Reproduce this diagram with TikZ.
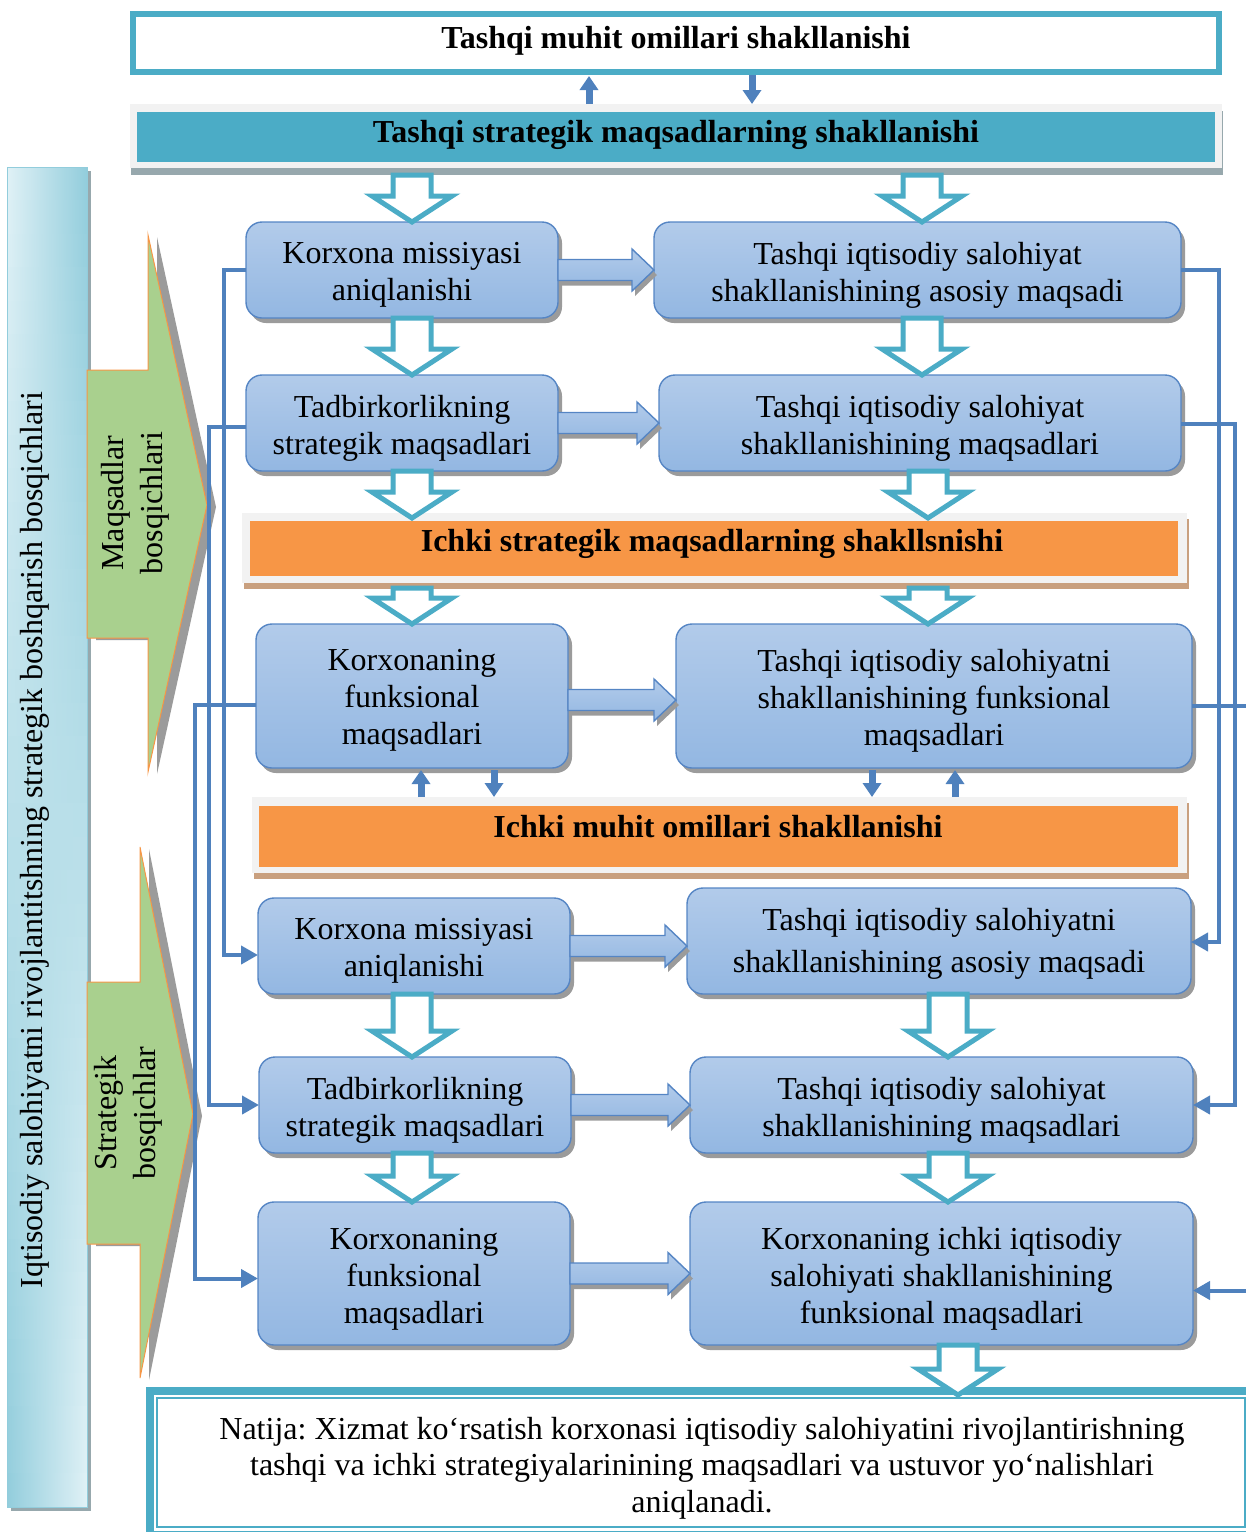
\documentclass[tikz,border=0pt]{standalone}
\usepackage{fontspec}
\setmainfont{Liberation Serif}
\usetikzlibrary{calc,shadows,arrows.meta}

\definecolor{cyanC}{HTML}{4BACC6}
\definecolor{lineB}{HTML}{4F81BD}
\definecolor{boxTop}{HTML}{B2CBEA}
\definecolor{boxBot}{HTML}{93B7E2}
\definecolor{boxEdge}{HTML}{5585C4}
\definecolor{orangeC}{HTML}{F79646}
\definecolor{bandGray}{HTML}{F2F2F2}
\definecolor{greenC}{HTML}{A9D08E}
\definecolor{barLight}{HTML}{E0F1F6}
\definecolor{barDark}{HTML}{92CDDC}
\definecolor{shadowG}{HTML}{9B9B9B}
\definecolor{shadowBlue}{HTML}{97A8AD}
\definecolor{shadowBrown}{HTML}{C9A07F}

\tikzset{
  every node/.style={font=\fontsize{16}{18.5}\selectfont, outer sep=0pt},
  goalbox/.style={draw=boxEdge, line width=0.7pt, rounded corners=8pt,
    top color=boxTop, bottom color=boxBot,
    drop shadow={shadow xshift=2pt, shadow yshift=-2.5pt, fill=shadowG, opacity=1}},
  goaltext/.style={align=center, inner sep=0pt},
  bandtext/.style={font=\bfseries\fontsize{16}{18.5}\selectfont,
    text height=11.5pt, text depth=3.5pt, inner sep=0pt},
  barrowsty/.style={draw=boxEdge, line width=0.7pt, top color=boxTop, bottom color=boxBot,
    drop shadow={shadow xshift=1.5pt, shadow yshift=-2.5pt, fill=shadowG, opacity=1}},
  hollowsty/.style={draw=cyanC, line width=2.5pt, fill=white, line join=miter},
  conn/.style={draw=lineB, line width=2pt, -{Triangle[length=8.5pt,width=9pt]}},
  smallarr/.style={draw=lineB, line width=3.5pt, -{Triangle[length=7pt,width=9pt]}},
  greensty/.style={fill=greenC, draw=orangeC, line width=0.5pt,
    drop shadow={shadow xshift=4.5pt, shadow yshift=-1pt, fill=shadowG, opacity=1}},
  sidetext/.style={rotate=90, align=center, font=\fontsize{16}{19.5}\selectfont}
}

% goal box: name, centre, width, height, text offset (px), text
\newcommand\goal[6]{%
  \node[goalbox, minimum width=#3, minimum height=#4] (#1) at #2 {};
  \node[goaltext] (#1t) at ($(#1)+(0,#5)$) {#6};}
% block arrow pointing right, from #1 to #2
\newcommand\barrow[2]{%
  \path[barrowsty] let \p1=(#1), \p2=(#2) in
    (\x1,\y1+5.25pt) -- (\x2-11pt,\y1+5.25pt) -- (\x2-11pt,\y1+10.5pt) -- (\x2,\y1)
    -- (\x2-11pt,\y1-10.5pt) -- (\x2-11pt,\y1-5.25pt) -- (\x1,\y1-5.25pt) -- cycle;}
% hollow arrow pointing down, from #1 to #2
\newcommand\harrow[2]{%
  \path[hollowsty] let \p1=(#1), \p2=(#2) in
    (\x1-9.5pt,\y1) -- (\x1+9.5pt,\y1) -- (\x1+9.5pt,\y2+13pt) -- (\x1+20pt,\y2+13pt)
    -- (\x1,\y2) -- (\x1-20pt,\y2+13pt) -- (\x1-9.5pt,\y2+13pt) -- cycle;}

\begin{document}
\begin{tikzpicture}[x=0.5pt,y=-0.5pt]
\useasboundingbox (0,0) rectangle (1246,1532);
\clip (0,0) rectangle (1246,1532);

% left vertical bar: shadow, gradient strips, outline
\node[fill=barDark, minimum width=40pt, minimum height=670pt,
  drop shadow={shadow xshift=2pt, shadow yshift=-2pt, fill=shadowBlue, opacity=1}] (bar) at (47,837) {};
\foreach \i in {0,...,39}{
  \pgfmathtruncatemacro\t{round(100*\i/39)}
  \fill[left color=barDark!\t!barLight, right color=barLight!\t!barDark]
    (7,167+\i*33.5) rectangle (87,167+\i*33.5+34);
}
\draw[barDark, line width=0.5pt] (bar.south west) rectangle (bar.north east);
\node[sidetext] (barT) at (35,840) {Iqtisodiy salohiyatni rivojlantitshning strategik boshqarish bosqichlari};

% green stage arrows
\path[greensty] (87,370) -- (148,370) -- (148,235) -- (207,505) -- (148,772) -- (148,638) -- (87,638) -- cycle;
\node[sidetext] (gT1) at (135,503) {Maqsadlar\\bosqichlari};
\path[greensty] (87,982) -- (140,982) -- (140,847) -- (193,1114) -- (140,1378) -- (140,1244) -- (87,1244) -- cycle;
\node[sidetext] (gT2) at (128,1113) {Strategik\\bosqichlar};

% top bands
\node[draw=cyanC, line width=3pt, minimum width=543pt, minimum height=29pt] (ext) at (676,43) {};
\node[bandtext] (extT) at (676,40) {Tashqi muhit omillari shakllanishi};

\node[fill=bandGray, minimum width=546pt, minimum height=32pt,
  drop shadow={shadow xshift=0.5pt, shadow yshift=-3.5pt, fill=shadowBlue, opacity=1}] (sband) at (676,136) {};
\node[fill=cyanC, minimum width=539pt, minimum height=25pt] (sbandIn) at (676,137) {};
\node[bandtext] (sbandT) at (676,134) {Tashqi strategik maqsadlarning shakllanishi};

% orange bands
\node[fill=bandGray, minimum width=472.5pt, minimum height=35pt,
  drop shadow={shadow xshift=0.75pt, shadow yshift=-3pt, fill=shadowBrown, opacity=1}] (ob1) at (714.5,548) {};
\node[fill=orangeC, minimum width=464pt, minimum height=27.5pt] (ob1In) at (714,548.5) {};
\node[bandtext] (ob1T) at (712,543) {Ichki strategik maqsadlarning shakllsnishi};

\node[fill=bandGray, minimum width=467.5pt, minimum height=38pt,
  drop shadow={shadow xshift=0.75pt, shadow yshift=-3pt, fill=shadowBrown, opacity=1}] (ob2) at (719.5,835) {};
\node[fill=orangeC, minimum width=459.5pt, minimum height=30.5pt] (ob2In) at (718.5,836.5) {};
\node[bandtext] (ob2T) at (718,829) {Ichki muhit omillari shakllanishi};

% goal boxes
\goal{a1}{(402,270)}{156pt}{48pt}{5}{Korxona missiyasi\\aniqlanishi}
\goal{b1}{(917.5,270)}{263.5pt}{48pt}{5}{Tashqi iqtisodiy salohiyat\\shakllanishining asosiy maqsadi}
\goal{a2}{(402,423)}{156pt}{48pt}{5}{Tadbirkorlikning\\strategik maqsadlari}
\goal{b2}{(920,423)}{261pt}{48pt}{5}{Tashqi iqtisodiy salohiyat\\shakllanishining maqsadlari}
\goal{a3}{(412,696)}{156pt}{72pt}{4}{Korxonaning\\funksional\\maqsadlari}
\goal{b3}{(934,696)}{258pt}{72pt}{4.5}{Tashqi iqtisodiy salohiyatni\\shakllanishining funksional\\maqsadlari}
\node[goalbox, minimum width=252pt, minimum height=53pt] (b4) at (939,941) {};
\node[goaltext, font=\fontsize{16}{21}\selectfont] (b4t) at ($(b4)+(0,2.5)$) {Tashqi iqtisodiy salohiyatni\\shakllanishining asosiy maqsadi};
\goal{a4}{(414,946)}{156pt}{48pt}{5}{Korxona missiyasi\\aniqlanishi}
\goal{a5}{(415,1105)}{156pt}{48pt}{5}{Tadbirkorlikning\\strategik maqsadlari}
\goal{b5}{(941.5,1105)}{251.5pt}{48pt}{5}{Tashqi iqtisodiy salohiyat\\shakllanishining maqsadlari}
\goal{a6}{(414,1273.5)}{156pt}{71.5pt}{5.5}{Korxonaning\\funksional\\maqsadlari}
\goal{b6}{(941.5,1273.5)}{251.5pt}{71.5pt}{5.5}{Korxonaning ichki iqtisodiy\\salohiyati shakllanishining\\funksional maqsadlari}

% block arrows between the two columns
\barrow{a1.east}{b1.west}
\barrow{a2.east}{b2.west}
\barrow{$(a3.east)+(0,4)$}{b3.west}
\barrow{a4.east}{b4.west}
\barrow{a5.east}{b5.west}
\barrow{a6.east}{b6.west}

% result box
\node[draw=cyanC, line width=4pt, minimum width=550pt, minimum height=72pt] (res) at (700,1463) {};
\node[draw=cyanC, line width=1pt, minimum width=544pt, minimum height=64.5pt] (resIn) at (701,1462.5) {};
\node[align=center, font=\fontsize{16}{18.25}\selectfont\frenchspacing] (resT) at (702,1468)
  {Natija: Xizmat ko‘rsatish korxonasi iqtisodiy salohiyatini rivojlantirishning\\
   tashqi va ichki strategiyalarinining maqsadlari va ustuvor yo‘nalishlari\\
   aniqlanadi.};

% hollow downward arrows
\coordinate (hL) at (412,0);
\coordinate (hR1) at (922,0);
\coordinate (hR2) at (928,0);
\coordinate (hR3) at (948,0);
\coordinate (hR4) at (958,0);
\harrow{$(hL |- sband.south)+(0,7)$}{hL |- a1.north}
\harrow{$(hR1 |- sband.south)+(0,7)$}{hR1 |- b1.north}
\harrow{hL |- a1.south}{hL |- a2.north}
\harrow{hR1 |- b1.south}{hR1 |- b2.north}
\harrow{hL |- a2.south}{$(hL |- ob1.north)+(0,5)$}
\harrow{hR2 |- b2.south}{$(hR2 |- ob1.north)+(0,5)$}
\harrow{$(hL |- ob1.south)+(0,5)$}{hL |- a3.north}
\harrow{$(hR2 |- ob1.south)+(0,5)$}{hR2 |- b3.north}
\harrow{hL |- a4.south}{hL |- a5.north}
\harrow{hR3 |- b4.south}{hR3 |- b5.north}
\harrow{hL |- a5.south}{hL |- a6.north}
\harrow{hR3 |- b5.south}{hR3 |- b6.north}
\harrow{hR4 |- b6.south}{$(hR4 |- res.north)+(0,4)$}

% small two-way arrows
\coordinate (u1) at (589,0);
\coordinate (d1) at (752,0);
\draw[smallarr] (u1 |- sband.north) -- ($(u1 |- ext.south)+(0,4)$);
\draw[smallarr] ($(d1 |- ext.south)+(0,3)$) -- (d1 |- sband.north);
\coordinate (u2) at (421,0);
\coordinate (d2) at (494,0);
\coordinate (d3) at (872,0);
\coordinate (u3) at (955,0);
\draw[smallarr] (u2 |- ob2.north) -- ($(u2 |- a3.south)+(0,2)$);
\draw[smallarr] ($(d2 |- a3.south)+(0,2)$) -- (d2 |- ob2.north);
\draw[smallarr] ($(d3 |- b3.south)+(0,2)$) -- (d3 |- ob2.north);
\draw[smallarr] (u3 |- ob2.north) -- ($(u3 |- b3.south)+(0,2)$);

% feedback connectors on the left
\coordinate (cL1) at (224,0);
\coordinate (cL2) at (209,0);
\coordinate (cL3) at (195,0);
\coordinate (s2) at ($(a2.west)+(0,4)$);
\coordinate (s3) at ($(a3.west)+(0,9)$);
\coordinate (e4) at ($(a4.west)+(0,9)$);
\coordinate (e6) at ($(a6.west)+(0,5)$);
\draw[conn] (a1.west) -- (a1.west -| cL1) -- (cL1 |- e4) -- (e4);
\draw[conn] (s2) -- (s2 -| cL2) -- (cL2 |- a5.west) -- (a5.west);
\draw[conn] (s3) -- (s3 -| cL3) -- (cL3 |- e6) -- (e6);

% feedback connectors on the right
\coordinate (cR1) at (1219,0);
\coordinate (cR2) at (1235,0);
\coordinate (cR3) at (1256,0);
\coordinate (t2) at ($(b2.east)+(0,1)$);
\coordinate (t3) at ($(b3.east)+(0,10)$);
\coordinate (f4) at ($(b4.east)+(0,1)$);
\coordinate (f6) at ($(b6.east)+(0,17)$);
\draw[conn] (b1.east) -- (b1.east -| cR1) -- (cR1 |- f4) -- (f4);
\draw[conn] (t2) -- (t2 -| cR2) -- (cR2 |- b5.east) -- (b5.east);
\draw[conn] (t3) -- (t3 -| cR3) -- (cR3 |- f6) -- (f6);
\end{tikzpicture}
\end{document}
